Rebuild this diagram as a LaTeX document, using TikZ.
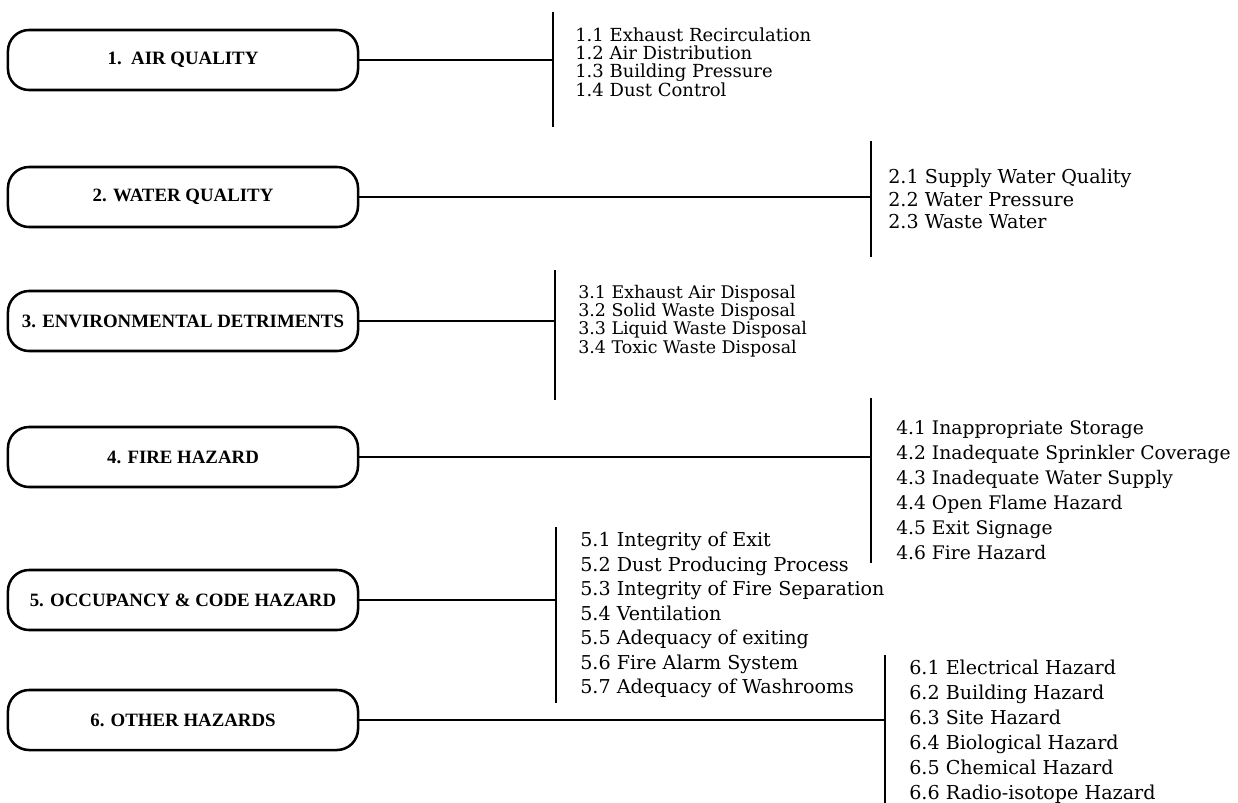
\documentclass[tikz,border=0pt]{standalone}
\usepackage{fontspec}
\setmainfont{DejaVu Serif}
\newfontfamily\labelfont{Liberation Serif}
\begin{document}
\begin{tikzpicture}[x=0.025cm, y=-0.025cm,
    cat/.style={draw, line width=1.8pt, rounded corners=15pt,
        minimum width=8.75cm, minimum height=1.5cm, inner xsep=2pt,
        font=\labelfont\bfseries\fontsize{13.4}{15}\selectfont},
    items/.style 2 args={anchor=west, align=left, inner sep=0pt,
        font=\fontsize{#1}{#2}\selectfont},
    edge/.style={line width=1.4pt}]
    \useasboundingbox (0,0) rectangle (1238,803);

    % Nodes
    \node[cat] (C1) at (183,60) {1.\ \ AIR QUALITY};
    \node[cat] (C2) at (183,197) {2. WATER QUALITY};
    \node[cat] (C3) at (183,321) {3. ENVIRONMENTAL DETRIMENTS};
    \node[cat] (C4) at (183,457) {4. FIRE HAZARD};
    \node[cat] (C5) at (183,600) {5. OCCUPANCY \& CODE HAZARD};
    \node[cat] (C6) at (183,720) {6. OTHER HAZARDS};

    % Bars
    \coordinate (B1t) at (553,12);  \coordinate (B1b) at (553,127);
    \coordinate (B2t) at (871,141); \coordinate (B2b) at (871,257);
    \coordinate (B3t) at (555,270); \coordinate (B3b) at (555,400);
    \coordinate (B4t) at (871,398); \coordinate (B4b) at (871,563);
    \coordinate (B5t) at (556,527); \coordinate (B5b) at (556,703);
    \coordinate (B6t) at (885,655); \coordinate (B6b) at (885,803);

    % Lists
    \node[items={12.8}{13}] (L1) at (575,62) {1.1 Exhaust Recirculation\\1.2 Air Distribution\\1.3 Building Pressure\\1.4 Dust Control};
    \node[items={13.6}{16}] (L2) at (888,199) {2.1 Supply Water Quality\\2.2 Water Pressure\\2.3 Waste Water};
    \node[items={12.4}{13}] (L3) at (578,321) {3.1 Exhaust Air Disposal\\3.2 Solid Waste Disposal\\3.3 Liquid Waste Disposal\\3.4 Toxic Waste Disposal};
    \node[items={13.3}{17.8}] (L4) at (896,490) {4.1 Inappropriate Storage\\4.2 Inadequate Sprinkler Coverage\\4.3 Inadequate Water Supply\\4.4 Open Flame Hazard\\4.5 Exit Signage\\4.6 Fire Hazard};
    \node[items={13.6}{17.4}] (L5) at (580,615) {5.1 Integrity of Exit\\5.2 Dust Producing Process\\5.3 Integrity of Fire Separation\\5.4 Ventilation\\5.5 Adequacy of exiting\\5.6 Fire Alarm System\\5.7 Adequacy of Washrooms};
    \node[items={13.6}{17.8}] (L6) at (909,732) {6.1 Electrical Hazard\\6.2 Building Hazard\\6.3 Site Hazard\\6.4 Biological Hazard\\6.5 Chemical Hazard\\6.6 Radio-isotope Hazard};

    % Edges
    \foreach \i in {1,...,6} {
        \draw[edge] (B\i t) -- (B\i b);
        \draw[edge] (C\i.east) -- (C\i.east -| B\i t);
    }
\end{tikzpicture}
\end{document}
